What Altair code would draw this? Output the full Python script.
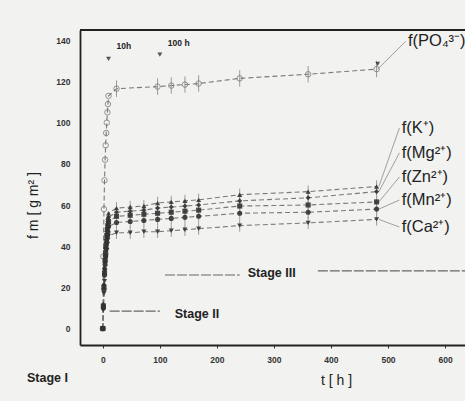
import altair as alt
import pandas as pd

# ---- data ----
t_early = [0, 1, 2, 3, 4, 5, 6, 7, 8, 9, 10]
t_late = [24, 48, 72, 96, 120, 144, 168, 240, 360, 480]
t_po4_late = [24, 96, 120, 144, 168, 240, 360, 480]

po4_early = [0, 35, 58, 72, 82, 89, 95, 100, 105, 109, 113]
po4_late = [116.5, 117.5, 118, 118.5, 119, 121.5, 123.5, 126]

k_early = [0, 12, 22, 30, 36, 40, 44, 48, 51, 54, 56]
k_late = [58.5, 59, 59.5, 61, 61.5, 62, 62.5, 65, 66.5, 69]
mg_early = [0, 11, 21, 29, 34, 39, 43, 46, 49, 52, 54]
mg_late = [56.5, 57, 57.5, 58.5, 59, 59.5, 60, 62, 63.5, 66.5]
zn_early = [0, 11, 20, 27, 33, 37, 41, 45, 48, 50, 52]
zn_late = [54.5, 55, 55.5, 56, 56.5, 57, 57.5, 59.5, 60, 61.5]
mn_early = [0, 10, 19, 26, 31, 35, 39, 42, 45, 47, 49.5]
mn_late = [51.5, 52, 52.5, 53, 53.5, 54, 54.5, 56, 56.5, 58]
ca_early = [0, 9, 17, 23, 28, 32, 35, 38, 41, 43, 45]
ca_late = [46.5, 46.5, 47, 47, 47.5, 48, 48.5, 50, 51.3, 53]

po4_err = 4
cation_err = 3

series_names = ["PO4", "K", "Mg", "Zn", "Mn", "Ca"]
label_texts = ["f(PO₄³⁻)", "f(K⁺)", "f(Mg²⁺)", "f(Zn²⁺)", "f(Mn²⁺)", "f(Ca²⁺)"]
label_t = [535, 524, 524, 524, 524, 524]
label_v = [139.5, 97.4, 85.3, 73.6, 62.4, 49.3]
leader_start = [482, 484, 484, 484, 484, 484]
leader_end = [531, 520, 520, 520, 520, 520]

x_ticks = [0, 100, 200, 300, 400, 500, 600]
y_ticks = [0, 20, 40, 60, 80, 100, 120, 140]

ann_text = ["10h", "100 h", "Stage II", "Stage III", "Stage I"]
ann_t = [24, 114, 126, 254, -133]
ann_v = [137, 138.5, 7, 27, -24]
ann_size = [8.5, 8.5, 12.5, 12.5, 12.5]

marker_t = [10, 100, 482]
marker_v = [131, 133, 128.5]

stage_line_t = [12, 109, 377]
stage_line_t2 = [100, 240, 635]
stage_line_v = [8.5, 26, 28]

# ---- build tables ----
rows = []
def add(name, ts, vs, err):
    for t, v in zip(ts, vs):
        rows.append({"series": name, "t": t, "v": v,
                     "lo": v - err if err else None, "hi": v + err if err else None})

add("PO4", t_early, po4_early, 0)
add("PO4", t_po4_late, po4_late, po4_err)
for name, e, l in [("K", k_early, k_late), ("Mg", mg_early, mg_late),
                   ("Zn", zn_early, zn_late), ("Mn", mn_early, mn_late),
                   ("Ca", ca_early, ca_late)]:
    add(name, t_early, e, 0)
    add(name, t_late, l, cation_err)

df = pd.DataFrame(rows)
df_err = df[df["lo"].notna()]
df_po4 = df[df["series"] == "PO4"]
df_cat = df[df["series"] != "PO4"]

last_vals = [po4_late[-1], k_late[-1], mg_late[-1], zn_late[-1], mn_late[-1], ca_late[-1]]
labels = pd.DataFrame({"series": series_names, "text": label_texts, "t": label_t, "v": label_v,
                       "t0": leader_start, "t1": leader_end, "v0": last_vals})
ann = pd.DataFrame({"text": ann_text, "t": ann_t, "v": ann_v, "size": ann_size})
markers = pd.DataFrame({"t": marker_t, "v": marker_v})
stages = pd.DataFrame({"t": stage_line_t, "t2": stage_line_t2, "v": stage_line_v})

W, H = 385, 315
xs = alt.Scale(domain=[-40, 635], nice=False, zero=False)
ys = alt.Scale(domain=[-8, 145], nice=False, zero=False)

X = alt.X("t:Q", scale=xs, axis=alt.Axis(
    values=x_ticks, title="t  [ h ]", grid=False, labelFontSize=8.5, labelColor="#333",
    tickSize=3, tickColor="#333", domainColor="#222", domainWidth=1.8,
    labelPadding=7, titleFontSize=14, titleFontWeight="normal", titleColor="#222",
    titleX=256, titleY=28, labelFontWeight="bold"))
Y = alt.Y("v:Q", scale=ys, axis=alt.Axis(
    values=y_ticks, title="f m  [ g m² ]", grid=False, labelFontSize=8.5, labelColor="#333",
    tickSize=0, domainColor="#222", domainWidth=1.8, labelPadding=10,
    titleFontSize=14, titleFontWeight="normal", titleColor="#222",
    titleX=-40, titleY=175, labelFontWeight="bold"))

shape_scale = alt.Scale(domain=series_names,
                        range=["circle", "triangle-up", "diamond", "square", "circle", "triangle-down"])

base = alt.Chart(df)

lines = base.mark_line(strokeDash=[5, 3], strokeWidth=1.1, color="#7a7a7a").encode(
    x=X, y=Y, detail="series:N")

errs = alt.Chart(df_err).mark_rule(color="#9a9a9a", strokeWidth=1).encode(
    x="t:Q", y="lo:Q", y2="hi:Q")

po4_pts = alt.Chart(df_po4).mark_point(shape="circle", size=30, color="#6a6a6a",
                                       strokeWidth=1, filled=False).encode(x="t:Q", y="v:Q")

cat_pts = alt.Chart(df_cat).mark_point(size=26, filled=True, color="#333333", opacity=0.9).encode(
    x="t:Q", y="v:Q",
    shape=alt.Shape("series:N", scale=shape_scale, legend=None))

leaders = alt.Chart(labels).mark_rule(color="#a0a0a0", strokeWidth=1).encode(
    x="t0:Q", x2="t1:Q", y="v0:Q", y2="v:Q")

label_marks = alt.Chart(labels).mark_text(align="left", baseline="middle", fontSize=16.5,
                                          font="Liberation Sans", color="#222").encode(
    x="t:Q", y="v:Q", text="text:N")

ann_marks = alt.Chart(ann).mark_text(align="left", baseline="middle", font="Liberation Sans",
                                     color="#222", fontWeight="bold").encode(
    x="t:Q", y="v:Q", text="text:N",
    size=alt.Size("size:Q", scale=None, legend=None))

marker_marks = alt.Chart(markers).mark_point(shape="triangle-down", filled=True, size=24,
                                             color="#111").encode(x="t:Q", y="v:Q")

stage_lines = alt.Chart(stages).mark_rule(color="#666", strokeWidth=1.2, strokeDash=[10, 2]).encode(
    x="t:Q", x2="t2:Q", y="v:Q")

top_border = alt.Chart(labels).mark_rule(color="#222", strokeWidth=1.8).encode(
    x=alt.value(0), x2=alt.value(W), y=alt.value(0))

chart = alt.layer(
    lines, errs, stage_lines, leaders, po4_pts, cat_pts, marker_marks,
    label_marks, ann_marks, top_border
).properties(
    width=W, height=H,
    autosize=alt.AutoSizeParams(type="none"),
    padding={"left": 80, "top": 30, "right": 0, "bottom": 56},
    background="#f2f2f0"
).configure_view(stroke=None).configure_axis(
    labelFont="Liberation Sans", titleFont="Liberation Sans")

chart.save("out.html", embed_options={"renderer": "svg", "actions": False})
